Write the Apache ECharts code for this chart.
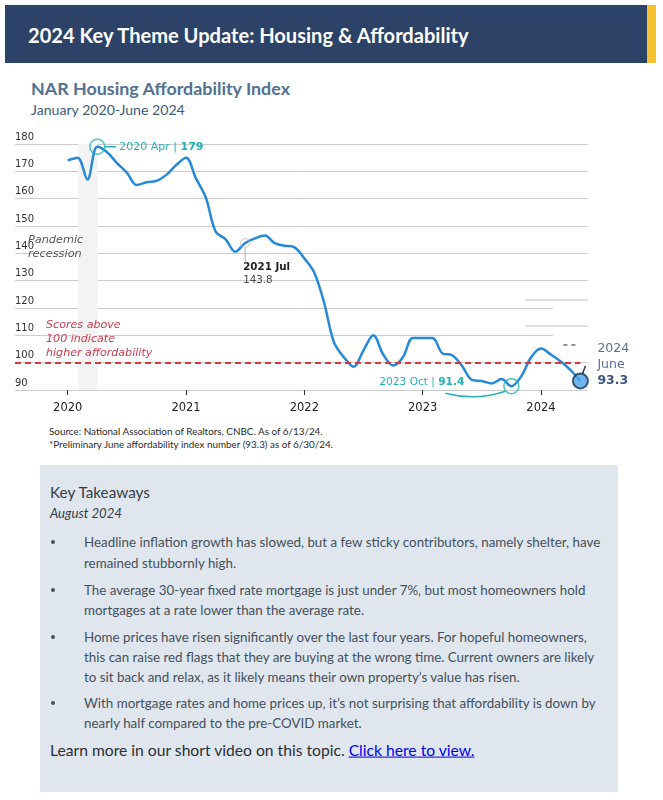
<!DOCTYPE html>
<html>
<head>
<meta charset="utf-8">
<script src="https://cdn.jsdelivr.net/npm/echarts@6/dist/echarts.min.js"></script>
<style>
  html, body { margin:0; padding:0; background:#fff; }
  body { width:663px; height:800px; position:relative; overflow:hidden; font-family: Lato, "Noto Sans", sans-serif; }
  .abs { position:absolute; white-space:nowrap; transform:translateY(-50%); line-height:1.2; }
  #hdr { position:absolute; left:5px; top:5px; width:642px; height:58px; background:#2c4367; }
  #hdrY { position:absolute; left:647px; top:5px; width:9px; height:58px; background:#f6c232; }
  #box { position:absolute; left:40px; top:465px; width:578px; height:327px; background:#dfe6ed; }
  #chart { position:absolute; left:0; top:120px; width:663px; height:300px; }
  .dot { position:absolute; width:4px; height:4px; border-radius:50%; background:#4a525c; transform:translate(-50%,-50%); }
  a { color:#0000ee; text-decoration:underline; }
</style>
</head>
<body>
<div id="hdr"></div><div id="hdrY"></div>
<div class="abs" id="tHdr" style="left:28px; top:35px; color:#fff; font-weight:700;">2024 Key Theme Update: Housing &amp; Affordability</div>
<div class="abs" id="tTitle" style="left:31px; top:89px; color:#52708f; font-weight:700;">NAR Housing Affordability Index</div>
<div class="abs" id="tSub" style="left:31px; top:110px; color:#3e5b7d;">January 2020-June 2024</div>
<div id="chart"></div>
<div class="abs src" id="s1" style="left:49px; top:432px; color:#2a2a2a;">Source: National Association of Realtors, CNBC. As of 6/13/24.</div>
<div class="abs src" id="s2" style="left:49px; top:445px; color:#2a2a2a;">*Preliminary June affordability index number (93.3) as of 6/30/24.</div>
<div id="box"></div>
<div class="abs" id="kt" style="left:50px; top:492px; color:#333d48;">Key Takeaways</div>
<div class="abs" id="ag" style="left:50px; top:514px; color:#333d48; font-style:italic;">August 2024</div>
<div id="bullets"></div>
<div class="abs" id="lm" style="left:50px; top:750px; color:#2a2f36;">Learn more in our short video on this topic. <a href="#">Click here to view.</a></div>
<script>
// ---------------- data ----------------
const yearTicks = [0, 12, 24, 36, 48];            // month index of each January
const yearLabels = ['2020', '2021', '2022', '2023', '2024'];
// NAR Housing Affordability Index, monthly from Jan 2020 (index 0)
const hai = [174, 175, 167, 179, 177, 173, 169.5, 165, 166, 166.5, 168.7, 172.3,
             175, 167.5, 160.5, 148, 145.2, 140.6, 143.8, 145.5, 146.5, 143.7, 142.8, 142.2,
             138.2, 133, 122, 107.5, 102, 98.5, 104.5, 110, 103, 99, 102, 109,
             109, 109, 103.4, 102.7, 98.8, 93.7, 93.3, 92.4, 94, 91.4, 95, 102,
             105.2, 103, 100.4, 97.3, 93.3];
const recession = [1.07, 3.04];                    // Feb-Apr 2020 shaded band
const threshold = 100;
const peakPt = [3, 179];
const jul21Pt = [18, 143.8];
const oct23Pt = [45, 91.4];
const lastPt = [52, 93.3];
const bulletLines = [
  ['Headline inflation growth has slowed, but a few sticky contributors, namely shelter, have', 'remained stubbornly high.'],
  ['The average 30-year fixed rate mortgage is just under 7%, but most homeowners hold', 'mortgages at a rate lower than the average rate.'],
  ['Home prices have risen significantly over the last four years. For hopeful homeowners,', 'this can raise red flags that they are buying at the wrong time. Current owners are likely', 'to sit back and relax, as it likely means their own property\u2019s value has risen.'],
  ['With mortgage rates and home prices up, it\u2019s not surprising that affordability is down by', 'nearly half compared to the pre-COVID market.']
];
const bulletTops = [[542, 563], [590, 610], [637, 657, 677], [703, 723]];

// ---------------- text layout ----------------
function fitTo(el, target) {
  el.style.fontSize = '20px';
  const w = el.getBoundingClientRect().width;
  const fs = 20 * target / w;
  el.style.fontSize = fs + 'px';
  return fs;
}
fitTo(document.getElementById('tHdr'), 441);
fitTo(document.getElementById('tTitle'), 259);
fitTo(document.getElementById('tSub'), 154);
const sfs = fitTo(document.getElementById('s1'), 274);
document.getElementById('s2').style.fontSize = sfs + 'px';
fitTo(document.getElementById('kt'), 100);
fitTo(document.getElementById('ag'), 72);
fitTo(document.getElementById('lm'), 425);

const bl = document.getElementById('bullets');
let bfs = null;
bulletLines.forEach((lines, bi) => {
  const d = document.createElement('div');
  d.className = 'dot';
  d.style.left = '53px';
  d.style.top = bulletTops[bi][0] + 'px';
  bl.appendChild(d);
  lines.forEach((txt, li) => {
    const e = document.createElement('div');
    e.className = 'abs';
    e.style.left = '84px';
    e.style.top = bulletTops[bi][li] + 'px';
    e.style.color = '#46505b';
    e.textContent = txt;
    bl.appendChild(e);
    if (bfs === null) bfs = fitTo(e, 517);
    else e.style.fontSize = bfs + 'px';
  });
});

// ---------------- chart ----------------
const chart = echarts.init(document.getElementById('chart'), null, { renderer: 'canvas' });
const X0 = -5.345, X1 = 52.77;
const lastIdx = hai.length - 1;
const teal = '#22b1b6';
chart.setOption({
  animation: false,
  textStyle: { fontFamily: 'DejaVu Sans' },
  grid: { left: 15, right: 75, top: 24, bottom: 30 },
  xAxis: {
    type: 'value', min: X0, max: X1,
    axisLine: { show: false }, splitLine: { show: false },
    axisTick: { show: true, customValues: yearTicks, length: 5, lineStyle: { color: '#333', width: 1 } },
    axisLabel: { customValues: yearTicks, formatter: v => yearLabels[yearTicks.indexOf(v)], color: '#222', fontSize: 11.5, margin: 12 }
  },
  yAxis: {
    type: 'value', min: 90, max: 180, interval: 10,
    axisLine: { show: false }, axisTick: { show: false },
    splitLine: { lineStyle: { color: '#cccccc', width: 1 } },
    axisLabel: { inside: true, margin: 0, verticalAlign: 'bottom', color: '#333', fontSize: 10, padding: [0, 0, 2, 0] }
  },
  series: [
    {
      type: 'line', data: hai.map((v, i) => [i, v]), smooth: 0.35, symbol: 'none', z: 5,
      lineStyle: { color: '#2589d8', width: 2.5 },
      markArea: { silent: true, itemStyle: { color: '#f3f3f3', opacity: 1 },
        data: [[{ coord: [recession[0], 90] }, { coord: [recession[1], 180] }]] },
      markLine: { silent: true, symbol: 'none', label: { show: false }, z: 6,
        lineStyle: { color: '#d9363e', type: [6, 4], width: 2 },
        data: [[{ coord: [X0, threshold] }, { coord: [lastIdx, threshold] }]] }
    },
    { type: 'scatter', data: [peakPt, oct23Pt], symbolSize: 15, z: 7,
      itemStyle: { color: 'rgba(0,0,0,0)', borderColor: teal, borderWidth: 1.5 } },
    { type: 'scatter', data: [jul21Pt], symbolSize: 9, z: 7,
      itemStyle: { color: 'rgba(0,0,0,0)', borderColor: '#aaa', borderWidth: 0.8 } },
    { type: 'scatter', data: [lastPt], symbolSize: 15, z: 7,
      itemStyle: { color: '#4da3e6', borderColor: '#1a3558', borderWidth: 2 } }
  ]
});

const P = (x, y) => chart.convertToPixel({ gridIndex: 0 }, [x, y]);
const g = [];
// 2020 Apr peak
let p = P(peakPt[0], peakPt[1]);
g.push({ type: 'line', z: 10, shape: { x1: p[0] + 7.5, y1: p[1], x2: p[0] + 19, y2: p[1] }, style: { stroke: teal, lineWidth: 1.5 } });
g.push({ type: 'text', z: 10, x: p[0] + 22, y: p[1], style: { text: '{a|2020 Apr | }{b|179}', verticalAlign: 'middle',
  rich: { a: { fill: teal, fontSize: 11, fontFamily: 'DejaVu Sans' }, b: { fill: teal, fontSize: 11, fontWeight: 'bold', fontFamily: 'DejaVu Sans' } } } });
// Pandemic recession
p = P(-4.03, 142.3);
g.push({ type: 'text', z: 10, x: p[0], y: p[1], style: { text: 'Pandemic\nrecession', verticalAlign: 'middle', lineHeight: 14,
  fill: '#555', fontSize: 11.3, fontStyle: 'italic', fontFamily: 'DejaVu Sans' } });
// 2021 Jul
p = P(jul21Pt[0], jul21Pt[1]);
g.push({ type: 'line', z: 10, shape: { x1: p[0], y1: p[1] + 5, x2: p[0], y2: p[1] + 19 }, style: { stroke: '#999', lineWidth: 0.8 } });
g.push({ type: 'text', z: 10, x: p[0] - 2, y: p[1] + 24, style: { text: '2021 Jul', verticalAlign: 'middle', fill: '#222', fontSize: 10.3, fontWeight: 'bold', fontFamily: 'DejaVu Sans' } });
g.push({ type: 'text', z: 10, x: p[0] - 2, y: p[1] + 37, style: { text: '143.8', verticalAlign: 'middle', fill: '#444', fontSize: 10.3, fontFamily: 'DejaVu Sans' } });
// Scores above 100
p = P(-2.2, threshold);
g.push({ type: 'text', z: 10, x: p[0], y: p[1] - 3, style: { text: 'Scores above\n100 indicate\nhigher affordability', verticalAlign: 'bottom', lineHeight: 14,
  fill: '#d0384a', fontSize: 11.1, fontStyle: 'italic', fontFamily: 'DejaVu Sans' } });
// 2023 Oct
p = P(oct23Pt[0], oct23Pt[1]);
g.push({ type: 'text', z: 10, x: p[0] - 47, y: p[1] - 4, style: { text: '{a|2023 Oct | }{b|91.4}', align: 'right', verticalAlign: 'middle',
  rich: { a: { fill: teal, fontSize: 10.6, fontFamily: 'DejaVu Sans' }, b: { fill: teal, fontSize: 10.6, fontWeight: 'bold', fontFamily: 'DejaVu Sans' } } } });
g.push({ type: 'bezierCurve', z: 10, shape: { x1: p[0] - 66, y1: p[1] + 7, cpx1: p[0] - 36, cpy1: p[1] + 15, x2: p[0] - 6, y2: p[1] + 5 },
  style: { stroke: teal, lineWidth: 1.5, fill: null } });
// Last point
p = P(lastPt[0], lastPt[1]);
g.push({ type: 'line', z: 10, shape: { x1: p[0] + 2, y1: p[1] - 7, x2: p[0] + 5, y2: p[1] - 15 }, style: { stroke: '#1a3558', lineWidth: 1.5 } });
g.push({ type: 'text', z: 10, x: p[0] + 17, y: p[1] - 32, style: { text: '2024', verticalAlign: 'middle', fill: '#5a7197', fontSize: 12.5, fontFamily: 'DejaVu Sans' } });
g.push({ type: 'text', z: 10, x: p[0] + 17, y: p[1] - 16, style: { text: 'June', verticalAlign: 'middle', fill: '#5a7197', fontSize: 12.5, fontFamily: 'DejaVu Sans' } });
g.push({ type: 'text', z: 10, x: p[0] + 17, y: p[1] + 0, style: { text: '93.3', verticalAlign: 'middle', fill: '#3b5681', fontSize: 12.5, fontWeight: 'bold', fontFamily: 'DejaVu Sans' } });
g.push({ type: 'line', z: 10, shape: { x1: p[0] - 17, y1: p[1] - 36, x2: p[0] - 13, y2: p[1] - 36 }, style: { stroke: '#223', lineWidth: 1 } });
g.push({ type: 'line', z: 10, shape: { x1: p[0] - 9, y1: p[1] - 36, x2: p[0] - 5, y2: p[1] - 36 }, style: { stroke: '#223', lineWidth: 1 } });
// stray rule fragments at the right edge of the grid
[120, 110].forEach(v => {
  const a = P(49.2, v), b = P(X1, v);
  g.push({ type: 'rect', z: 1, shape: { x: a[0], y: a[1] - 1.5, width: b[0] - a[0] + 2, height: 3 }, style: { fill: '#fff' } });
});
[122.9, 113.4].forEach(v => {
  const a = P(46.4, v), b = P(X1, v);
  g.push({ type: 'line', z: 1, shape: { x1: a[0], y1: a[1], x2: b[0], y2: b[1] }, style: { stroke: '#c4c4c4', lineWidth: 1 } });
});
chart.setOption({ graphic: { elements: g } });
</script>
</body>
</html>
